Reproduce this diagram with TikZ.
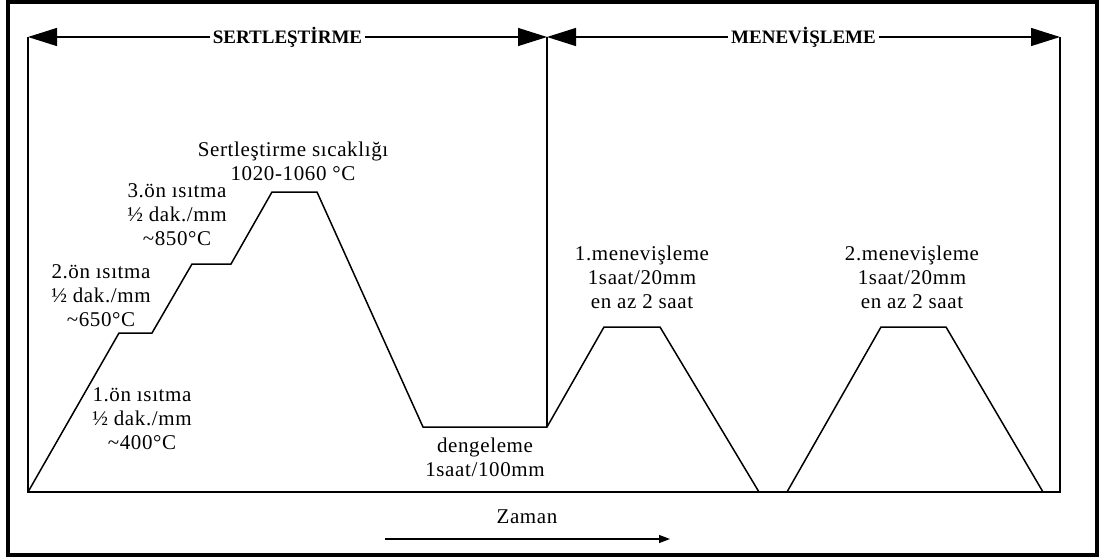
\documentclass[tikz,border=0pt]{standalone}
\usepackage{fontspec}
\setmainfont{Liberation Serif}
\newfontfamily\labelfont[LetterSpace=3]{Liberation Serif}
\usetikzlibrary{arrows.meta}
\begin{document}
\begin{tikzpicture}[x=1pt,y=-1pt,
  label/.style={align=center,inner sep=0pt,font=\labelfont\fontsize{21}{24}\selectfont},
  head/.style={fill=white,inner sep=3pt,font=\bfseries\fontsize{19}{22}\selectfont},
  curve/.style={line width=1.5pt,line join=miter},
  axis/.style={line width=1.3pt},
  span/.style={line width=1.2pt,{Triangle[length=29pt,width=18pt]}-{Triangle[length=29pt,width=18pt]}},
  timearrow/.style={line width=1.2pt,-{Triangle[length=11pt,width=8pt]}}]
\useasboundingbox (0,0) rectangle (1101,557);
% outer frame
\draw[line width=4pt] (8,2) rectangle (1097,555);

% axes and phase borders
\coordinate (o) at (28,492);
\coordinate (lt) at (28,37);
\coordinate (mt) at (547,37);
\coordinate (mb) at (547,427);
\coordinate (rt) at (1060,37);
\coordinate (rb) at (1060,492);
\draw[axis] (lt) -- (o) -- (rb) -- (rt);
\draw[axis] (mt) -- (mb);

% phase headers
\draw[span] (lt) -- node[head] (hs) {SERTLEŞTİRME} (mt);
\draw[span] (mt) -- node[head] (hm) {MENEVİŞLEME} (rt);

% temperature profile
\coordinate (p1) at (119,333);
\coordinate (p2) at (152,333);
\coordinate (p3) at (192,264);
\coordinate (p4) at (231,264);
\coordinate (p5) at (272,192);
\coordinate (p6) at (317,192);
\coordinate (p7) at (423,427);
\coordinate (p9) at (604,327);
\coordinate (p10) at (660,327);
\coordinate (p11) at (759,492);
\coordinate (p12) at (787,492);
\coordinate (p13) at (881,327);
\coordinate (p14) at (946,327);
\coordinate (p15) at (1043,492);
\draw[curve] (o) -- (p1) -- (p2) -- (p3) -- (p4) -- (p5) -- (p6) -- (p7)
  -- (mb) -- (p9) -- (p10) -- (p11) -- (p12) -- (p13) -- (p14) -- (p15);

% labels
\node[label] (tsert) at (293,161) {Sertleştirme sıcaklığı\\1020-1060 °C};
\node[label] (t3) at (177,215) {3.ön ısıtma\\½ dak./mm\\\textasciitilde850°C};
\node[label] (t2) at (101,296) {2.ön ısıtma\\½ dak./mm\\\textasciitilde650°C};
\node[label] (t1) at (142,419) {1.ön ısıtma\\½ dak./mm\\\textasciitilde400°C};
\node[label] (tden) at (485,457) {dengeleme\\1saat/100mm};
\node[label] (tm1) at (642,277) {1.menevişleme\\1saat/20mm\\en az 2 saat};
\node[label] (tm2) at (912,277) {2.menevişleme\\1saat/20mm\\en az 2 saat};

% time axis
\node[label] (zaman) at (527,517) {Zaman};
\coordinate (za) at (385,539);
\coordinate (zb) at (670,539);
\draw[timearrow] (za) -- (zb);
\end{tikzpicture}
\end{document}
